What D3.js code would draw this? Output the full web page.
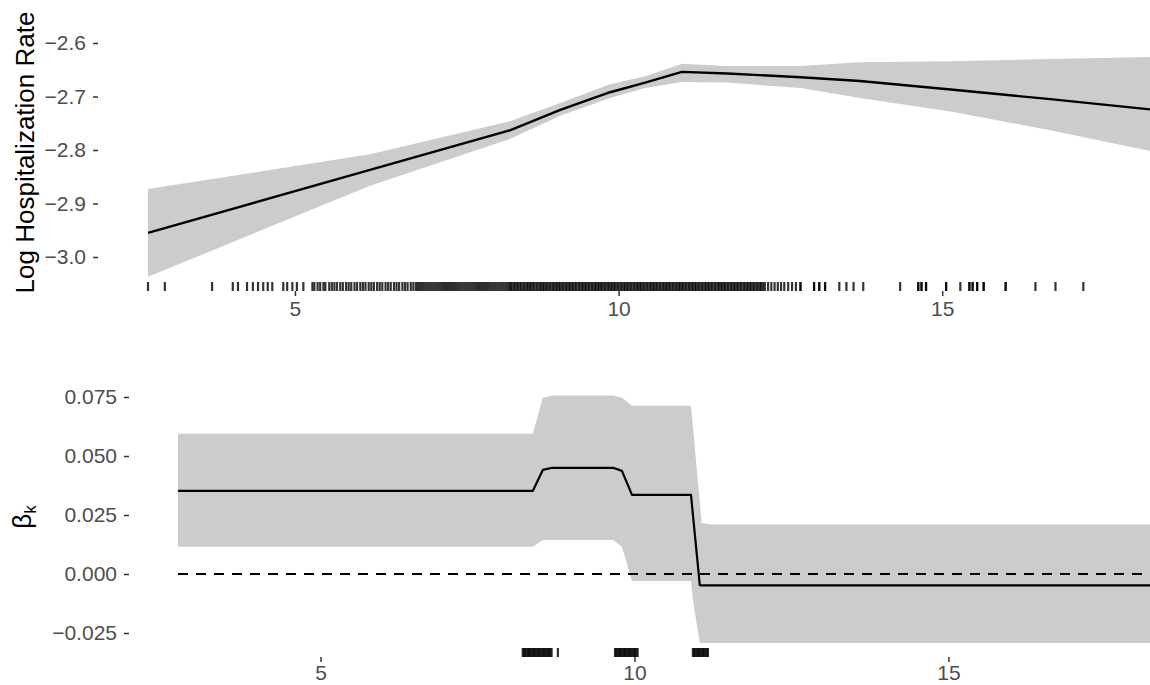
<!DOCTYPE html>
<html>
<head>
<meta charset="utf-8">
<script src="https://cdn.jsdelivr.net/npm/d3@7"></script>
<style>
  body { margin: 0; background: #fff; }
  svg { display: block; }
  .tick text { font-family: "Liberation Sans", Arial, sans-serif; font-size: 21px; fill: #4d4d4d; }
  .tick line { stroke: #333; stroke-width: 1.5px; }
</style>
</head>
<body>
<svg id="chart" width="1150" height="685"></svg>
<script>
// ---------- Top panel: fitted log hospitalization rate ----------
const topX   = [2.73, 6.16, 8.33, 9.10, 9.87, 10.41, 10.98, 11.68, 12.81, 13.73, 15.13, 16.67, 18.21];
const topFit = [-2.955, -2.837, -2.763, -2.725, -2.692, -2.674, -2.654, -2.657, -2.664, -2.671, -2.687, -2.705, -2.724];
const topLo  = [-3.037, -2.867, -2.779, -2.736, -2.703, -2.684, -2.673, -2.674, -2.684, -2.703, -2.728, -2.763, -2.802];
const topHi  = [-2.873, -2.808, -2.746, -2.712, -2.677, -2.662, -2.639, -2.643, -2.643, -2.636, -2.634, -2.630, -2.626];
const topYTicks = [-3.0, -2.9, -2.8, -2.7, -2.6];
const xTicks = [5, 10, 15];

const topRug = [
  2.73, 2.99, 3.72, 4.04, 4.12, 4.26, 4.35, 4.43, 4.51, 4.58, 4.65, 4.82, 4.88, 4.96, 5.03, 5.13,
  5.27, 5.30, 5.35, 5.39, 5.44, 5.47, 5.53, 5.57, 5.61, 5.65, 5.70, 5.74, 5.79, 5.83, 5.87, 5.92,
  5.96, 6.01, 6.05, 6.09, 6.14, 6.18, 6.22, 6.27, 6.31, 6.35, 6.40, 6.44, 6.48, 6.53, 6.57, 6.61,
  6.66, 6.70, 6.74, 6.79, 6.83, 6.87,
  6.90, 6.93, 6.96, 6.99, 7.02, 7.05, 7.08, 7.11, 7.14, 7.17, 7.20, 7.23, 7.26, 7.29, 7.32, 7.35,
  7.38, 7.41, 7.44, 7.47, 7.50, 7.53, 7.56, 7.59, 7.62, 7.65, 7.68, 7.71, 7.74, 7.77, 7.80, 7.83,
  7.86, 7.89, 7.92, 7.95, 7.98, 8.01, 8.04, 8.07, 8.10, 8.13, 8.16, 8.19, 8.22, 8.25, 8.28, 8.31,
  8.33, 8.35, 8.38, 8.40, 8.43, 8.45, 8.48, 8.50, 8.53, 8.55, 8.58, 8.60, 8.63, 8.65, 8.68, 8.70,
  8.73, 8.75, 8.78, 8.80, 8.83, 8.85, 8.88, 8.90, 8.93, 8.95, 8.98, 9.00, 9.03, 9.05, 9.08, 9.10,
  9.13, 9.15, 9.18, 9.20, 9.23, 9.25, 9.28, 9.30, 9.33, 9.35, 9.38, 9.40, 9.43, 9.45, 9.48, 9.50,
  9.53, 9.55, 9.58, 9.60, 9.63, 9.65, 9.68, 9.70, 9.73, 9.75, 9.78, 9.80, 9.83, 9.85, 9.88, 9.90,
  9.93, 9.95, 9.98, 10.00, 10.03, 10.05, 10.08, 10.10, 10.13, 10.15, 10.18, 10.20, 10.23, 10.25,
  10.28, 10.30, 10.33, 10.35, 10.38, 10.40, 10.43, 10.45, 10.48, 10.50, 10.53, 10.55, 10.58, 10.60,
  10.63, 10.65, 10.68, 10.70, 10.73, 10.75, 10.78, 10.80, 10.83, 10.85, 10.88, 10.90, 10.93, 10.95,
  10.98, 11.00, 11.03, 11.05, 11.08, 11.10, 11.13, 11.15, 11.18, 11.20, 11.23, 11.25, 11.28, 11.30,
  11.33, 11.35, 11.38, 11.40, 11.43, 11.45, 11.48, 11.50, 11.53, 11.55, 11.58, 11.60, 11.63, 11.65,
  11.68, 11.70, 11.73, 11.75, 11.78, 11.80, 11.83, 11.85, 11.88, 11.90, 11.93, 11.95, 11.98, 12.00,
  12.03, 12.05, 12.08, 12.10, 12.13, 12.15, 12.18, 12.20, 12.23, 12.26,
  12.31, 12.36, 12.41, 12.46, 12.51, 12.56, 12.62, 12.68, 12.74,
  12.81, 12.81, 13.02, 13.02, 13.10, 13.10, 13.19, 13.19, 13.41, 13.52, 13.63, 13.78, 14.35,
  14.63, 14.63, 14.68, 14.68, 14.75, 14.75, 15.06, 15.06, 15.28, 15.42, 15.42, 15.47, 15.47,
  15.54, 15.54, 15.64, 15.64, 15.98, 15.98, 16.44, 16.75, 17.18
];

// ---------- Bottom panel: varying coefficient beta_k ----------
const botX   = [2.73, 8.38, 8.54, 8.69, 9.66, 9.80, 9.96, 10.90, 10.93, 11.04, 11.07, 11.23, 18.21];
const botFit = [0.0352, 0.0352, 0.0441, 0.0450, 0.0450, 0.0437, 0.0335, 0.0335, 0.0253, -0.0047, -0.0048, -0.0048, -0.0048];
const botLo  = [0.0115, 0.0115, 0.0144, 0.0144, 0.0144, 0.0115, -0.0030, -0.0030, -0.0110, -0.0290, -0.0292, -0.0292, -0.0292];
const botHi  = [0.0594, 0.0594, 0.0747, 0.0756, 0.0756, 0.0747, 0.0713, 0.0713, 0.0625, 0.0304, 0.0216, 0.0210, 0.0210];
const botYTicks = [-0.025, 0.000, 0.025, 0.050, 0.075];
const refLine = [0];

const botRug = [
  8.22, 8.24, 8.26, 8.28, 8.30, 8.32, 8.34, 8.36, 8.38, 8.40, 8.42, 8.44, 8.46, 8.48, 8.50,
  8.52, 8.54, 8.56, 8.58, 8.60, 8.62, 8.64, 8.66, 8.68, 8.78,
  9.69, 9.71, 9.73, 9.75, 9.77, 9.79, 9.81, 9.83, 9.85, 9.87, 9.89, 9.91, 9.93, 9.95, 9.97,
  9.99, 10.01, 10.03, 10.05,
  10.93, 10.95, 10.97, 10.99, 11.01, 11.03, 11.05, 11.07, 11.09, 11.11, 11.13, 11.15, 11.17
];

// ---------- drawing ----------
const svg = d3.select("#chart");
svg.append("rect").attr("width", 1150).attr("height", 685).attr("fill", "#fff");
const FONT = "'Liberation Sans', Arial, sans-serif";

function panel(cfg) {
  const x = d3.scaleLinear().domain([2.73, 18.21]).range([cfg.dataLeft, 1150]);
  const y = d3.scaleLinear().domain(cfg.yDomain).range(cfg.yRange);
  const g = svg.append("g");
  const rows = cfg.xs.map((v, i) => ({x: v, fit: cfg.fit[i], lo: cfg.lo[i], hi: cfg.hi[i]}));

  g.append("path").datum(rows)
    .attr("fill", "#cccccc")
    .attr("d", d3.area().x(d => x(d.x)).y0(d => y(d.lo)).y1(d => y(d.hi)));

  if (cfg.ref) {
    g.selectAll(".ref").data(cfg.ref).join("line")
      .attr("x1", x(2.73)).attr("x2", x(18.21))
      .attr("y1", d => y(d)).attr("y2", d => y(d))
      .attr("stroke", "#000").attr("stroke-width", 2.2).attr("stroke-dasharray", "10,8");
  }

  g.append("path").datum(rows)
    .attr("fill", "none").attr("stroke", "#000").attr("stroke-width", cfg.lw)
    .attr("stroke-linejoin", "round")
    .attr("d", d3.line().x(d => x(d.x)).y(d => y(d.fit)));

  g.selectAll(".rug").data(cfg.rug).join("line")
    .attr("x1", d => x(d)).attr("x2", d => x(d))
    .attr("y1", cfg.panelBottom - 9).attr("y2", cfg.panelBottom)
    .attr("stroke", "#000").attr("stroke-width", 2.2).attr("stroke-opacity", 0.8);

  const ya = g.append("g").attr("transform", `translate(${cfg.axisX},0)`)
    .call(d3.axisLeft(y).tickValues(cfg.yTicks).tickFormat(d3.format(cfg.yFmt)).tickSize(5).tickPadding(7));
  ya.select(".domain").remove();

  const xa = g.append("g").attr("transform", `translate(0,${cfg.panelBottom})`)
    .call(d3.axisBottom(x).tickValues(xTicks).tickFormat(d3.format("d")).tickSize(5).tickPadding(cfg.xPad));
  xa.select(".domain").remove();
  return {x, y};
}

panel({
  xs: topX, fit: topFit, lo: topLo, hi: topHi, rug: topRug,
  dataLeft: 148, yDomain: [-3.0, -2.6], yRange: [257, 43],
  yTicks: topYTicks, yFmt: ".1f", axisX: 98, panelBottom: 291, xPad: 5, lw: 2.4
});

panel({
  xs: botX, fit: botFit, lo: botLo, hi: botHi, rug: botRug, ref: refLine,
  dataLeft: 178, yDomain: [-0.025, 0.075], yRange: [633, 397],
  yTicks: botYTicks, yFmt: ".3f", axisX: 129, panelBottom: 657, xPad: 3, lw: 2.2
});

// axis titles
svg.append("text")
  .attr("transform", "translate(34,152.5) rotate(-90)")
  .attr("text-anchor", "middle")
  .style("font-family", FONT).style("font-size", "26px").attr("fill", "#000")
  .text("Log Hospitalization Rate");

const bt = svg.append("text")
  .attr("transform", "translate(31,517) rotate(-90)")
  .attr("text-anchor", "middle")
  .style("font-family", FONT).style("font-size", "26px").attr("fill", "#000");
bt.append("tspan").text("β");
bt.append("tspan").attr("dy", 5).style("font-size", "17px").text("k");
</script>
</body>
</html>
